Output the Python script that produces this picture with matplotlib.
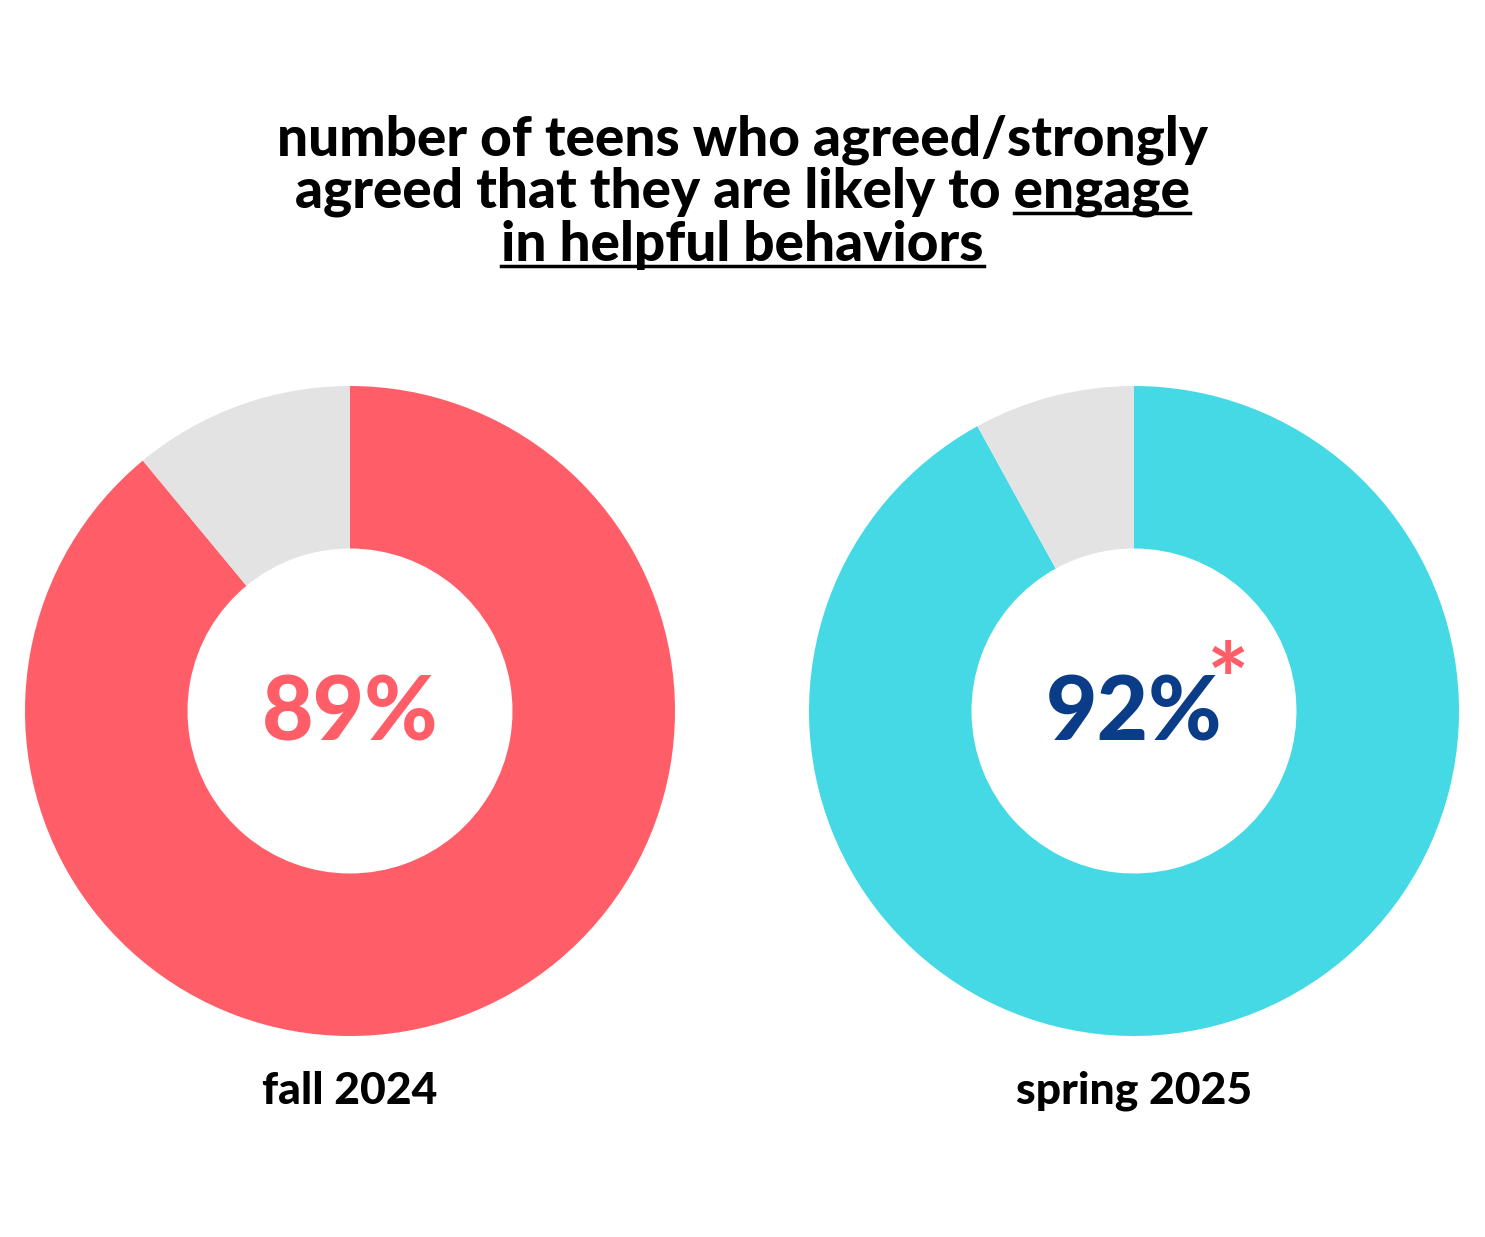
import matplotlib

matplotlib.use("Agg")
import matplotlib.pyplot as plt
from matplotlib.lines import Line2D

# data
periods = ["fall 2024", "spring 2025"]
agree_pct = [89, 92]
ring_colors = ["#FF5E69", "#45D9E6"]
pct_colors = ["#FF5E69", "#0A3C87"]
rest_color = "#E3E3E3"
title_lines = [
    "number of teens who agreed/strongly",
    "agreed that they are likely to engage",
    "in helpful behaviors",
]

W, H = 1485, 1237
FONT = ["Lato", "DejaVu Sans"]

fig = plt.figure(figsize=(W / 100, H / 100), dpi=100)
fig.patch.set_facecolor("white")

centers_x = [350, 1134]
cy, r = 711, 325

for i, (period, pct) in enumerate(zip(periods, agree_pct)):
    cx = centers_x[i]
    ax = fig.add_axes([(cx - r) / W, (H - cy - r) / H, 2 * r / W, 2 * r / H])
    ax.pie(
        [pct, 100 - pct],
        colors=[ring_colors[i], rest_color],
        startangle=90,
        counterclock=False,
        radius=1,
        wedgeprops=dict(width=0.5, linewidth=0),
    )
    ax.set_xlim(-1, 1)
    ax.set_ylim(-1, 1)
    ax.set_aspect("equal")
    ax.axis("off")
    ax.text(0, -0.01, f"{pct}%", ha="center", va="center", fontsize=64,
            fontweight="black", color=pct_colors[i], family=FONT)
    fig.text(cx / W, 1 - 1091 / H, period, ha="center", va="center",
             fontsize=32, fontweight="black", color="black", family=FONT)

# asterisk on the second value
fig.text(1228 / W, 1 - 716 / H, "*", ha="center", va="baseline", fontsize=72,
         fontweight="bold", color=pct_colors[0], family=FONT)

# title with underlined part
title_y = [140, 192, 245]
tkw = dict(ha="center", va="center", fontsize=39.5, fontweight="black",
           color="black", family=FONT)
texts = [fig.text(0.5, 1 - y / H, line, **tkw) for line, y in zip(title_lines, title_y)]

fig.canvas.draw()
renderer = fig.canvas.get_renderer()


def text_width(s):
    t = fig.text(0, 0, s, **tkw)
    w = t.get_window_extent(renderer).width
    t.remove()
    return w


underline_y = [None, 213, 266]
# line 2: underline "engage"
bb = texts[1].get_window_extent(renderer)
x0 = bb.x0 + text_width("agreed that they are likely to ")
x1 = x0 + text_width("engage")
bb3 = texts[2].get_window_extent(renderer)
for xa, xb, y in [(x0, x1, underline_y[1]), (bb3.x0, bb3.x1, underline_y[2])]:
    fig.add_artist(Line2D([xa / W, xb / W], [1 - y / H, 1 - y / H],
                          color="black", linewidth=2.5, transform=fig.transFigure))

fig.savefig("out.png", dpi=100, facecolor="white")
